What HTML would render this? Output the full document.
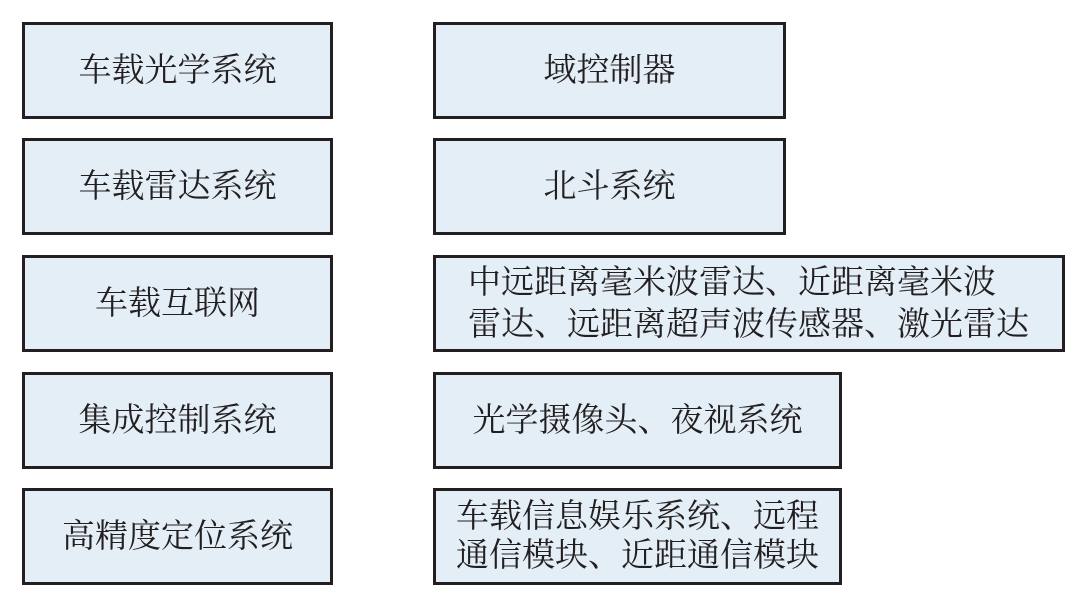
<!DOCTYPE html>
<html><head><meta charset="utf-8"><style>
body{margin:0;width:1080px;height:607px;background:#fff;position:relative;overflow:hidden;font-family:"Liberation Serif","Noto Serif CJK SC","Noto Sans CJK SC",serif;color:#231f20}
.b{position:absolute;box-sizing:border-box;border:3px solid #231f20;background:#e3eef6;display:flex;align-items:center;justify-content:center;font-size:33px;line-height:42px;text-align:center;white-space:nowrap}
.l{justify-content:flex-start;text-align:left}
</style></head><body>
<div class="b" style="left:22px;top:22px;width:311px;height:97px">车载光学系统</div>
<div class="b" style="left:22px;top:138px;width:311px;height:97px">车载雷达系统</div>
<div class="b" style="left:22px;top:255px;width:311px;height:97px">车载互联网</div>
<div class="b" style="left:22px;top:372px;width:311px;height:97px">集成控制系统</div>
<div class="b" style="left:22px;top:488px;width:311px;height:97px">高精度定位系统</div>
<div class="b" style="left:433px;top:22px;width:353px;height:97px">域控制器</div>
<div class="b" style="left:433px;top:138px;width:353px;height:97px">北斗系统</div>
<div class="b l" style="left:433px;top:255px;width:632px;height:97px;padding-left:32px;line-height:42px">中远距离毫米波雷达、近距离毫米波<br>雷达、远距离超声波传感器、激光雷达</div>
<div class="b" style="left:433px;top:372px;width:409px;height:97px">光学摄像头、夜视系统</div>
<div class="b" style="left:433px;top:488px;width:409px;height:97px;line-height:39px">车载信息娱乐系统、远程<br>通信模块、近距通信模块</div>
</body></html>
